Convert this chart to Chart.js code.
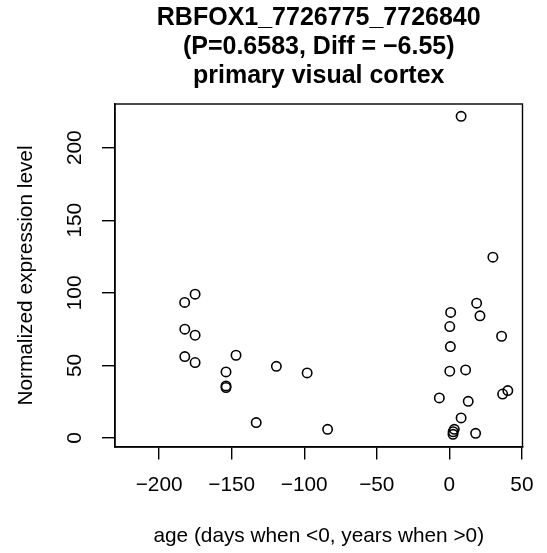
<!DOCTYPE html>
<html>
<head>
<meta charset="utf-8">
<script src="https://cdn.jsdelivr.net/npm/chart.js@4"></script>
<style>
html,body{margin:0;padding:0;background:#fff;}
#wrap{width:547px;height:553px;}
</style>
</head>
<body>
<div id="wrap"><canvas id="c" width="547" height="553"></canvas></div>
<script>
const titleLines = ["RBFOX1_7726775_7726840", "(P=0.6583, Diff = \u22126.55)", "primary visual cortex"];
const xAxisTitle = "age (days when <0, years when >0)";
const yAxisTitle = "Normalized expression level";
const xTicks = [-200, -150, -100, -50, 0, 50];
const yTicks = [0, 50, 100, 150, 200];

const ages = [
  -182.4, -175.2, -182.3, -175.2, -182.3, -175.2,
  -153.9, -153.9, -153.9, -147.0, -133.1, -119.2, -98.0, -83.9,
  8.1, 30.0, 18.8, 21.1, 0.9, 0.3, 36.0, 0.7, 0.3, 11.2,
  -6.9, 13.0, 36.7, 40.3, 8.1, 3.4, 2.6, 2.5, 18.1
];
const expression = [
  93.4, 99.1, 75.0, 70.8, 56.1, 52.0,
  45.5, 35.9, 34.8, 57.0, 10.6, 49.4, 44.8, 6.0,
  221.6, 124.6, 92.9, 84.2, 86.5, 76.8, 70.1, 63.0, 46.0, 46.9,
  27.6, 25.3, 30.3, 32.7, 13.8, 6.0, 4.3, 2.5, 3.2
];

const FONT = "'Liberation Sans', Arial, Helvetica, sans-serif";
const fmt = v => (v < 0 ? "\u2212" + Math.abs(v) : String(v));

const points = ages.map((a, i) => ({x: a, y: expression[i]}));

const rPlot = {
  id: 'rPlot',
  afterDraw(chart) {
    const ctx = chart.ctx;
    const a = chart.chartArea;
    const ys = chart.scales.y;
    ctx.save();
    ctx.strokeStyle = '#000';
    ctx.lineWidth = 1.4;
    ctx.strokeRect(a.left, a.top, a.right - a.left, a.bottom - a.top);
    ctx.fillStyle = '#000';
    ctx.font = "20.8px " + FONT;
    ctx.textAlign = 'center';
    ctx.textBaseline = 'middle';
    yTicks.forEach(v => {
      const py = ys.getPixelForValue(v);
      ctx.save();
      ctx.translate(75, py);
      ctx.rotate(-Math.PI / 2);
      ctx.fillText(fmt(v), 0, 0);
      ctx.restore();
    });
    ctx.save();
    ctx.translate(26, (a.top + a.bottom) / 2);
    ctx.rotate(-Math.PI / 2);
    ctx.fillText(yAxisTitle, 0, 0);
    ctx.restore();
    ctx.font = "bold 25px " + FONT;
    const cx = (a.left + a.right) / 2;
    titleLines.forEach((t, i) => ctx.fillText(t, cx, 18 + i * 29));
    ctx.restore();
  }
};

new Chart(document.getElementById('c'), {
  type: 'scatter',
  data: {
    datasets: [{
      data: points,
      pointStyle: 'circle',
      pointRadius: 4.7,
      pointHoverRadius: 4.7,
      borderWidth: 1.6,
      borderColor: '#000',
      backgroundColor: 'rgba(0,0,0,0)'
    }]
  },
  options: {
    responsive: false,
    animation: false,
    events: [],
    layout: {padding: {top: 104, right: 14, bottom: 0, left: 0}},
    plugins: {legend: {display: false}, tooltip: {enabled: false}, title: {display: false}},
    scales: {
      x: {
        type: 'linear',
        position: 'bottom',
        min: -230.4,
        max: 50.4,
        afterFit(s) { s.height = 106; },
        afterBuildTicks(s) { s.ticks = xTicks.map(v => ({value: v})); },
        grid: {drawOnChartArea: false, drawTicks: true, tickLength: 12.5, color: '#000', lineWidth: 1.4},
        border: {display: true, color: '#000', width: 1.4},
        ticks: {
          color: '#000', font: {family: FONT, size: 20.8}, padding: 13.5,
          maxRotation: 0, minRotation: 0, autoSkip: false, includeBounds: false,
          callback: v => fmt(v)
        },
        title: {display: true, text: xAxisTitle, color: '#000', font: {family: FONT, size: 20.8}, padding: {top: 0, bottom: 4}}
      },
      y: {
        type: 'linear',
        position: 'left',
        min: -6.2,
        max: 230.1,
        afterFit(s) { s.width = 115; },
        afterBuildTicks(s) { s.ticks = yTicks.map(v => ({value: v})); },
        grid: {drawOnChartArea: false, drawTicks: true, tickLength: 13, color: '#000', lineWidth: 1.4},
        border: {display: true, color: '#000', width: 1.4},
        ticks: {display: false, includeBounds: false}
      }
    }
  },
  plugins: [rPlot]
});
</script>
</body>
</html>
